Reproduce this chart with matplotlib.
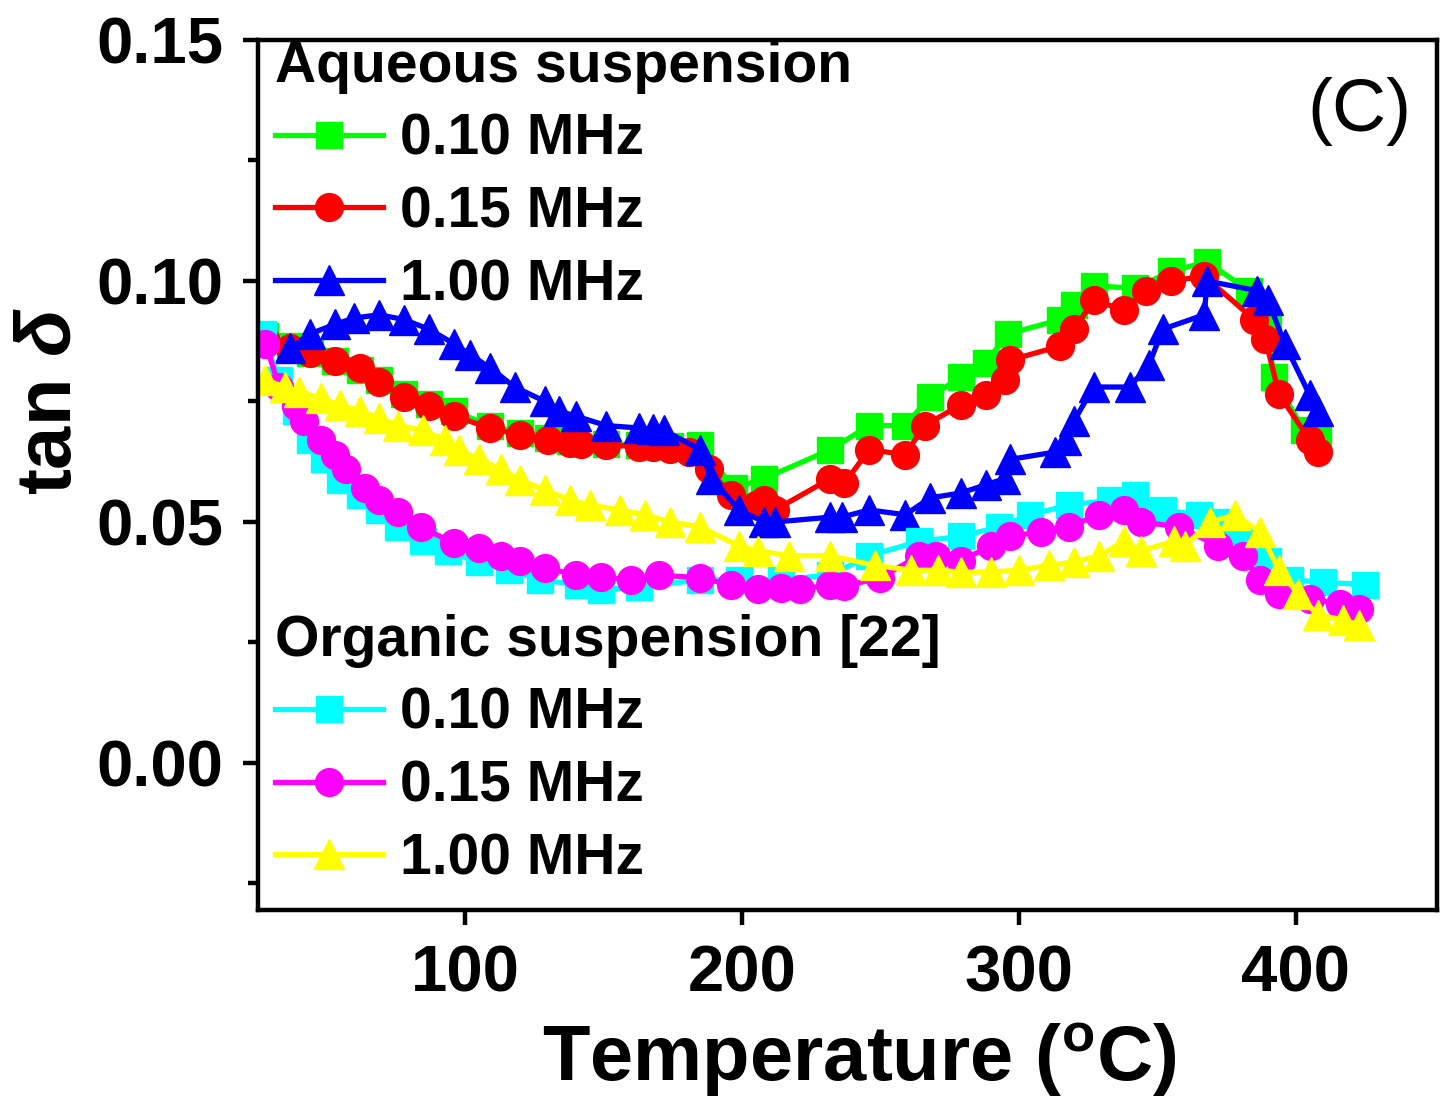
import matplotlib
matplotlib.use("Agg")
import matplotlib.pyplot as plt
from matplotlib.ticker import MultipleLocator

# ---- data ----
# aqueous suspension
aq_010_T = [28, 37, 44, 53, 62, 69, 78, 87, 96, 109, 120, 130, 138, 151, 163, 174,
            185, 197, 208, 232, 246, 259, 268, 279, 288, 296, 315, 320, 327, 342,
            355, 368, 383, 390, 392, 403, 408]
aq_010 = [0.0885, 0.0865, 0.0850, 0.0835, 0.0815, 0.0795, 0.0765, 0.0745, 0.0730,
          0.0700, 0.0685, 0.0675, 0.0668, 0.0662, 0.0660, 0.0658, 0.0660, 0.0570,
          0.0590, 0.0650, 0.0700, 0.0700, 0.0760, 0.0800, 0.0830, 0.0890, 0.0920,
          0.0950, 0.0990, 0.0985, 0.1020, 0.1040, 0.0980, 0.0910, 0.0800, 0.0690,
          0.0680]

aq_015_T = [28, 37, 44, 53, 62, 69, 78, 87, 96, 109, 120, 130, 138, 142, 151, 163,
            168, 174, 181, 188, 196, 205, 208, 212, 232, 237, 246, 259, 266, 279,
            288, 295, 297, 315, 320, 327, 338, 346, 355, 367, 385, 389, 394, 405,
            408]
aq_015 = [0.0880, 0.0860, 0.0850, 0.0835, 0.0820, 0.0790, 0.0760, 0.0740, 0.0720,
          0.0695, 0.0680, 0.0670, 0.0664, 0.0662, 0.0660, 0.0656, 0.0655, 0.0652,
          0.0645, 0.0610, 0.0556, 0.0535, 0.0545, 0.0525, 0.0590, 0.0580, 0.0650,
          0.0640, 0.0700, 0.0743, 0.0764, 0.0795, 0.0836, 0.0865, 0.0900, 0.0960,
          0.0940, 0.0980, 0.1000, 0.1010, 0.0920, 0.0880, 0.0765, 0.0670, 0.0645]

aq_100_T = [37, 44, 53, 60, 69, 78, 87, 96, 102, 109, 118, 129, 134, 140, 151, 163,
            168, 172, 185, 189, 199, 208, 212, 232, 236, 246, 259, 268, 279, 288,
            295, 297, 313, 317, 320, 327, 340, 347, 352, 367, 368, 386, 390, 396,
            405, 408]
aq_100 = [0.0860, 0.0890, 0.0910, 0.0923, 0.0930, 0.0920, 0.0900, 0.0870, 0.0847,
          0.0820, 0.0780, 0.0750, 0.0730, 0.0720, 0.0700, 0.0695, 0.0692, 0.0690,
          0.0650, 0.0590, 0.0525, 0.0500, 0.0500, 0.0510, 0.0510, 0.0525, 0.0515,
          0.0550, 0.0560, 0.0577, 0.0590, 0.0630, 0.0645, 0.0670, 0.0710, 0.0780,
          0.0780, 0.0826, 0.0900, 0.0930, 0.1000, 0.0980, 0.0960, 0.0870, 0.0764,
          0.0730]

# organic suspension [22]
org_010_T = [27, 33, 39, 44, 49, 55, 62, 69, 76, 85, 94, 105, 116, 127, 141, 149,
             163, 185, 199, 214, 232, 246, 264, 279, 293, 304, 318, 333, 342, 352,
             365, 372, 380, 390, 398, 410, 425]
org_010 = [0.0890, 0.0795, 0.0730, 0.0670, 0.0630, 0.0587, 0.0556, 0.0525, 0.0490,
           0.0460, 0.0440, 0.0417, 0.0400, 0.0380, 0.0370, 0.0359, 0.0365, 0.0380,
           0.0380, 0.0380, 0.0390, 0.0430, 0.0460, 0.0470, 0.0490, 0.0515, 0.0535,
           0.0545, 0.0556, 0.0525, 0.0515, 0.0500, 0.0460, 0.0420, 0.0380, 0.0375,
           0.0370]

org_015_T = [28, 33, 39, 42, 48, 53, 57, 64, 69, 76, 84, 96, 105, 113, 120, 129,
             140, 149, 160, 170, 185, 196, 206, 214, 221, 232, 237, 250, 264, 270,
             279, 290, 297, 308, 318, 329, 338, 344, 358, 372, 381, 387, 394, 405,
             416, 423]
org_015 = [0.0870, 0.0780, 0.0740, 0.0710, 0.0670, 0.0640, 0.0610, 0.0570, 0.0546,
           0.0520, 0.0490, 0.0456, 0.0446, 0.0430, 0.0420, 0.0405, 0.0390, 0.0386,
           0.0380, 0.0390, 0.0384, 0.0370, 0.0360, 0.0362, 0.0360, 0.0370, 0.0367,
           0.0384, 0.0430, 0.0430, 0.0420, 0.0450, 0.0470, 0.0480, 0.0490, 0.0515,
           0.0525, 0.0500, 0.0490, 0.0450, 0.0430, 0.0380, 0.0350, 0.0340, 0.0330,
           0.0320]

org_100_T = [28, 35, 40, 48, 55, 62, 69, 76, 85, 93, 98, 105, 113, 120, 129, 138,
             145, 156, 165, 174, 185, 199, 206, 217, 232, 248, 261, 271, 279, 290,
             300, 311, 320, 329, 338, 344, 356, 360, 369, 378, 387, 394, 401, 408,
             417, 423]
org_100 = [0.0795, 0.0780, 0.0770, 0.0757, 0.0743, 0.0730, 0.0716, 0.0700, 0.0690,
           0.0670, 0.0650, 0.0630, 0.0610, 0.0587, 0.0566, 0.0546, 0.0535, 0.0525,
           0.0515, 0.0500, 0.0490, 0.0450, 0.0440, 0.0430, 0.0430, 0.0410, 0.0400,
           0.0400, 0.0396, 0.0396, 0.0400, 0.0410, 0.0417, 0.0430, 0.0460, 0.0440,
           0.0460, 0.0450, 0.0500, 0.0515, 0.0480, 0.0400, 0.0350, 0.0307, 0.0297,
           0.0286]

freq_labels = ["0.10 MHz", "0.15 MHz", "1.00 MHz"]

# ---- style ----
plt.rcParams['font.family'] = ['Liberation Sans', 'DejaVu Sans']
plt.rcParams['font.weight'] = 'bold'
plt.rcParams['mathtext.fontset'] = 'custom'
plt.rcParams['mathtext.rm'] = 'Liberation Sans'
plt.rcParams['mathtext.it'] = 'Liberation Sans:italic'
plt.rcParams['mathtext.bf'] = 'Liberation Sans:bold'

fig = plt.figure(figsize=(14.43, 10.99), dpi=100)
ax = fig.add_axes([0.1788, 0.172, 0.817, 0.7916])

lw = 3.8
aq_lines = []
aq_lines += ax.plot(aq_010_T, aq_010, color='#00ff00', marker='s', ms=19, mec='#00ff00', lw=lw)
aq_lines += ax.plot(aq_015_T, aq_015, color='#ff0000', marker='o', ms=20, mec='#ff0000', lw=lw)
aq_lines += ax.plot(aq_100_T, aq_100, color='#0000ff', marker='^', ms=22, mec='#0000ff', lw=lw)

org_lines = []
org_lines += ax.plot(org_010_T, org_010, color='#00ffff', marker='s', ms=19, mec='#00ffff', lw=lw)
org_lines += ax.plot(org_015_T, org_015, color='#ff00ff', marker='o', ms=20, mec='#ff00ff', lw=lw)
org_lines += ax.plot(org_100_T, org_100, color='#ffff00', marker='^', ms=22, mec='#ffff00', lw=lw)

ax.set_xlim(25.3, 451)
ax.set_ylim(-0.0305, 0.15)
ax.set_xticks([100, 200, 300, 400])
ax.set_yticks([0.00, 0.05, 0.10, 0.15])
ax.set_yticklabels(["0.00", "0.05", "0.10", "0.15"])
ax.yaxis.set_minor_locator(MultipleLocator(0.025))

for s in ax.spines.values():
    s.set_linewidth(3.2)
ax.tick_params(axis='both', which='major', direction='out', length=11, width=3.2,
               labelsize=47, top=False, right=False)
ax.tick_params(axis='y', which='major', pad=14)
ax.tick_params(axis='x', which='major', pad=14)
ax.tick_params(axis='y', which='minor', direction='out', length=7, width=3.2, right=False)
for lab in ax.get_xticklabels() + ax.get_yticklabels():
    lab.set_fontweight('bold')

ax.set_xlabel('Temperature ' + r'$\mathrm{(}$' + r'$\mathbf{^{o}}$' + 'C' + r'$\mathrm{)}$',
              fontsize=56, fontweight='bold')
ax.xaxis.set_label_coords(0.51, -0.128)
ax.set_ylabel('tan ' + r'$\mathit{\delta}$', fontsize=56, fontweight='bold')
ax.yaxis.set_label_coords(-0.145, 0.585)

ax.text(0.978, 0.957, '(C)', transform=ax.transAxes, fontsize=54, fontweight='normal',
        ha='right', va='top')

leg1 = ax.legend(aq_lines, freq_labels, loc='upper left', bbox_to_anchor=(0.0, 1.02),
                 frameon=False, fontsize=41, handlelength=1.9, handletextpad=0.3,
                 labelspacing=0.33, borderpad=0.2, borderaxespad=0.1,
                 title='Aqueous suspension', alignment='left',
                 title_fontproperties={'size': 41, 'weight': 'bold'})
ax.add_artist(leg1)
leg2 = ax.legend(org_lines, freq_labels, loc='upper left', bbox_to_anchor=(0.0, 0.36),
                 frameon=False, fontsize=41, handlelength=1.9, handletextpad=0.3,
                 labelspacing=0.33, borderpad=0.2, borderaxespad=0.1,
                 title='Organic suspension [22]', alignment='left',
                 title_fontproperties={'size': 41, 'weight': 'bold'})

fig.savefig('out.png', dpi=100)
